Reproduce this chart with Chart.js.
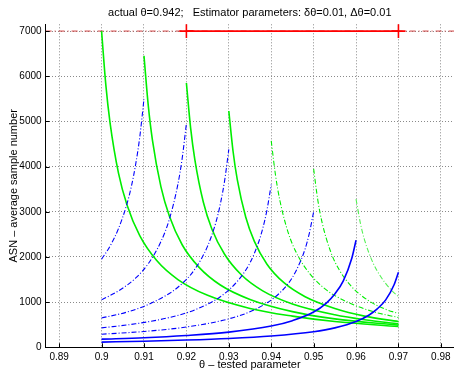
<!DOCTYPE html>
<html><head><meta charset="utf-8">
<script src="https://cdn.jsdelivr.net/npm/chart.js@4"></script>
<style>html,body{margin:0;padding:0;background:#fff;overflow:hidden}</style>
</head><body>
<canvas id="c" width="454" height="372"></canvas>
<script>
// ---- data ----
const titleText = 'actual θ=0.942;   Estimator parameters: δθ=0.01, Δθ=0.01';
const xTitle = 'θ – tested parameter';
const yTitle = 'ASN – average sample number';
const xTicks = [0.89,0.90,0.91,0.92,0.93,0.94,0.95,0.96,0.97,0.98];
const yTicks = [0,1000,2000,3000,4000,5000,6000,7000];
const xMin = 0.8868, xMax = 0.9831, yMin = 0, yMax = 7150;

// blue (rising) curves
const blue1X = [0.900,0.902,0.904,0.906,0.907,0.908,0.909,0.910];
const blue1Y = [1950,2240,2630,3180,3550,4030,4650,5500];
const blue2X = [0.900,0.904,0.908,0.911,0.914,0.916,0.918,0.919,0.920];
const blue2Y = [1050,1250,1530,1850,2340,2840,3610,4180,4950];
const blue3X = [0.900,0.906,0.912,0.918,0.922,0.925,0.927,0.928,0.929,0.930];
const blue3Y = [650,780,990,1330,1730,2240,2780,3170,3680,4380];
const blue4X = [0.900,0.908,0.916,0.922,0.928,0.932,0.935,0.937,0.938,0.939,0.940];
const blue4Y = [430,520,660,830,1120,1460,1870,2320,2630,3040,3600];
const blue5X = [0.900,0.910,0.920,0.930,0.936,0.941,0.944,0.946,0.948,0.949,0.950];
const blue5Y = [290,350,450,630,830,1120,1410,1720,2180,2530,3000];
const blue6X = [0.900,0.910,0.920,0.930,0.940,0.945,0.950,0.953,0.955,0.957,0.959,0.960];
const blue6Y = [180,210,260,335,470,590,780,980,1180,1470,1970,2370];
const blue7X = [0.900,0.910,0.920,0.930,0.940,0.950,0.955,0.960,0.963,0.965,0.967,0.969,0.970];
const blue7Y = [115,135,160,195,250,345,430,570,710,850,1050,1390,1660];

// green (falling) curves
const green1X = [0.900,0.901,0.902,0.904,0.906,0.909,0.913,0.918,0.925,0.935,0.945,0.955,0.970];
const green1Y = [7000,5810,4970,3850,3150,2470,1920,1500,1150,860,690,570,460];
const green2X = [0.910,0.911,0.912,0.914,0.916,0.919,0.923,0.928,0.935,0.945,0.955,0.970];
const green2Y = [6450,5360,4580,3550,2900,2270,1770,1380,1060,790,630,490];
const green3X = [0.920,0.921,0.922,0.924,0.926,0.929,0.933,0.938,0.945,0.955,0.962,0.970];
const green3Y = [5850,4850,4150,3210,2620,2060,1600,1250,960,720,610,520];
const green4X = [0.930,0.931,0.932,0.934,0.936,0.939,0.943,0.948,0.955,0.962,0.970];
const green4Y = [5230,4340,3710,2880,2350,1840,1430,1120,860,690,570];
const green5X = [0.940,0.941,0.942,0.944,0.946,0.949,0.953,0.958,0.964,0.970];
const green5Y = [4570,3820,3270,2540,2080,1640,1270,1000,790,660];
const green6X = [0.950,0.951,0.952,0.954,0.956,0.959,0.963,0.967,0.970];
const green6Y = [3950,3250,2760,2120,1720,1340,1030,840,750];
const green7X = [0.960,0.961,0.962,0.964,0.966,0.968,0.970];
const green7Y = [3280,2760,2380,1870,1540,1300,1120];

// estimator interval at the ASN limit
const limitASN = 7000;
const intervalX = [0.92, 0.97];

// ---- build chart ----
Chart.defaults.font.family = "'Liberation Sans', Arial, sans-serif";
Chart.defaults.color = '#000';

const pts = (xs, ys) => xs.map((x, i) => ({x, y: ys[i]}));
const BLUE = '#0000ff', GREEN = '#00ee00', RED = '#ff0000';
const DASHDOT = [5, 2, 1, 2];

function curve(xs, ys, color, dashed) {
  return {
    data: pts(xs, ys), showLine: true, borderColor: color, backgroundColor: color,
    borderWidth: dashed ? 1.1 : 1.6, borderDash: dashed ? DASHDOT : [],
    pointRadius: 0, cubicInterpolationMode: 'monotone', fill: false
  };
}

const datasets = [
  curve(blue7X, blue7Y, BLUE, false),
  curve(blue6X, blue6Y, BLUE, false),
  curve(blue5X, blue5Y, BLUE, true),
  curve(blue4X, blue4Y, BLUE, true),
  curve(blue3X, blue3Y, BLUE, true),
  curve(blue2X, blue2Y, BLUE, true),
  curve(blue1X, blue1Y, BLUE, true),
  curve(green1X, green1Y, GREEN, false),
  curve(green2X, green2Y, GREEN, false),
  curve(green3X, green3Y, GREEN, false),
  curve(green4X, green4Y, GREEN, false),
  curve(green5X, green5Y, GREEN, true),
  curve(green6X, green6Y, GREEN, true),
  curve(green7X, green7Y, '#55f055', true),
  {
    data: intervalX.map(x => ({x, y: limitASN})), showLine: true,
    borderColor: RED, borderWidth: 1.6, pointStyle: 'cross', pointRadius: 7,
    pointBorderColor: RED, pointBorderWidth: 1.6, pointBackgroundColor: RED
  },
  {
    data: [{x: xMin, y: limitASN}, {x: xMax, y: limitASN}], showLine: true,
    borderColor: '#d04040', borderWidth: 1, borderDash: [6, 3, 1, 3], pointRadius: 0
  }
];

const fmt = v => String(parseFloat(Number(v).toFixed(2)));

const inwardTicks = {
  id: 'inwardTicks',
  afterDraw(chart) {
    const {ctx, chartArea: a, scales: {x, y}} = chart;
    ctx.save();
    ctx.strokeStyle = '#000'; ctx.lineWidth = 1; ctx.setLineDash([]);
    ctx.beginPath();
    yTicks.forEach(v => { const p = Math.round(y.getPixelForValue(v)) + 0.5; ctx.moveTo(a.left, p); ctx.lineTo(a.left + 4, p); });
    xTicks.forEach(v => { const p = Math.round(x.getPixelForValue(v)) + 0.5; ctx.moveTo(p, a.bottom); ctx.lineTo(p, a.bottom - 4); });
    ctx.stroke();
    ctx.restore();
  }
};

new Chart(document.getElementById('c'), {
  type: 'scatter',
  data: {datasets},
  plugins: [inwardTicks],
  options: {
    responsive: false, animation: false, devicePixelRatio: 1,
    layout: {padding: 0, autoPadding: false},
    plugins: {
      legend: {display: false}, tooltip: {enabled: false},
      title: {display: true, text: titleText, fullSize: false, color: '#000',
        font: {size: 11, weight: 'normal'}, padding: {top: 6.5, bottom: 4.6}}
    },
    scales: {
      x: {
        type: 'linear', min: xMin, max: xMax,
        afterFit: s => { s.height = 24.7; s.paddingLeft = 0; s.paddingRight = 0; },
        afterBuildTicks: s => { s.ticks = xTicks.map(v => ({value: v})); },
        ticks: {callback: v => fmt(v), font: {size: 10}, color: '#000', padding: 3.5, maxRotation: 0, autoSkip: false},
        grid: {color: '#8a8a8a', drawTicks: false, lineWidth: 1},
        border: {display: true, color: '#000', width: 1, dash: [1, 2]},
        title: {display: true, text: xTitle, color: '#000', font: {size: 11}, padding: {top: 0, bottom: 0}}
      },
      y: {
        type: 'linear', min: yMin, max: yMax,
        afterFit: s => { s.width = 45.6; s.paddingTop = 0; s.paddingBottom = 0; },
        afterBuildTicks: s => { s.ticks = yTicks.map(v => ({value: v})); },
        ticks: {callback: v => String(v), font: {size: 10}, color: '#000', padding: 4, autoSkip: false},
        grid: {color: '#8a8a8a', drawTicks: false, lineWidth: 1},
        border: {display: true, color: '#000', width: 1, dash: [1, 2]},
        title: {display: true, text: yTitle, color: '#000', font: {size: 11}, padding: {top: 7.5, bottom: 0}}
      }
    }
  }
});
</script>
</body></html>
